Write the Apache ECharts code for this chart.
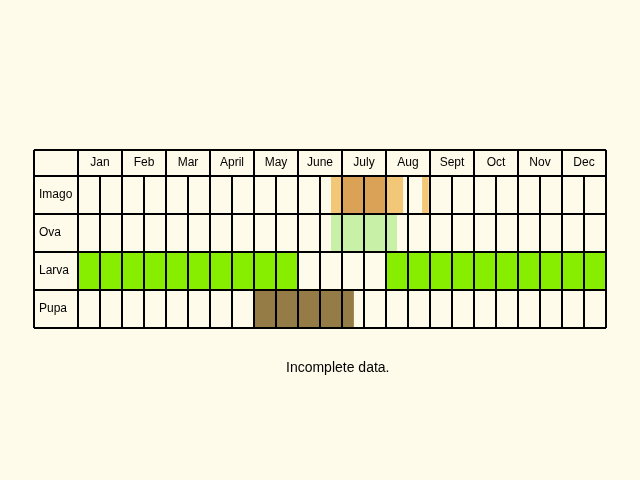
<!DOCTYPE html>
<html><head><meta charset="utf-8">
<script src="https://cdn.jsdelivr.net/npm/echarts@6/dist/echarts.min.js"></script>
<style>html,body{margin:0;background:#fffbea}#c{width:640px;height:480px}</style>
</head><body><div id="c"></div>
<script>
const months = ['Jan','Feb','Mar','April','May','June','July','Aug','Sept','Oct','Nov','Dec'];
const stages = ['Imago','Ova','Larva','Pupa'];
// [stageIndex, startMonth, endMonth, colour]
const imagoPeriods = [[0,5.75,6.0,'#f2c878'],[0,6.0,7.0,'#d9a256'],[0,7.0,7.39,'#f2c878'],[0,7.82,7.97,'#f2c878']];
const ovaPeriods = [[1,5.75,7.25,'#c8f0a6']];
const larvaPeriods = [[2,0,5.0,'#88ee00'],[2,7.0,12,'#88ee00']];
const pupaPeriods = [[3,4.0,6.27,'#957b45']];
const H = 26/38; // header height in row units
const periods = [].concat(imagoPeriods, ovaPeriods, larvaPeriods, pupaPeriods);
const chart = echarts.init(document.getElementById('c'));
const font = '12px "Liberation Sans", Arial, sans-serif';
chart.setOption({
  backgroundColor:'#fffbea',
  animation:false,
  grid:{left:34,right:34,top:150,bottom:152},
  xAxis:{type:'value',min:-1,max:12,show:false},
  yAxis:{type:'value',min:0,max:H+4,inverse:true,show:false},
  graphic:[{type:'text',left:286,top:361,style:{text:'Incomplete data.',font:'14px "Liberation Sans", Arial, sans-serif',fill:'#000'}}],
  series:[
    {type:'custom',z:1,data:periods,renderItem:(p,api)=>{
      const r=api.value(0), a=api.coord([api.value(1),H+r]), b=api.coord([api.value(2),H+r+1]);
      return {type:'rect',shape:{x:a[0],y:a[1],width:b[0]-a[0],height:b[1]-a[1]},style:{fill:periods[p.dataIndex][3]}};
    }},
    {type:'custom',z:2,data:[0],renderItem:(p,api)=>{
      const ch=[], st={stroke:'#000',lineWidth:2};
      const L=(x1,y1,x2,y2)=>{const a=api.coord([x1,y1]),b=api.coord([x2,y2]);ch.push({type:'line',shape:{x1:a[0],y1:a[1],x2:b[0],y2:b[1]},style:st});};
      const ys=[0,H,H+1,H+2,H+3,H+4];
      ys.forEach(y=>L(-1,y,12,y));
      L(-1,0,-1,H+4);
      for(let m=0;m<=12;m++) L(m,0,m,H+4);
      for(let m=0;m<12;m++) L(m+0.5,H,m+0.5,H+4);
      months.forEach((t,i)=>{const c=api.coord([i+0.5,H/2]);ch.push({type:'text',x:c[0],y:c[1],style:{text:t,font,fill:'#000',align:'center',verticalAlign:'middle'}});});
      stages.forEach((t,i)=>{const c=api.coord([-1,H+i+0.5]);ch.push({type:'text',x:c[0]+5,y:c[1],style:{text:t,font,fill:'#000',align:'left',verticalAlign:'middle'}});});
      return {type:'group',children:ch};
    }}
  ]
});
</script></body></html>
